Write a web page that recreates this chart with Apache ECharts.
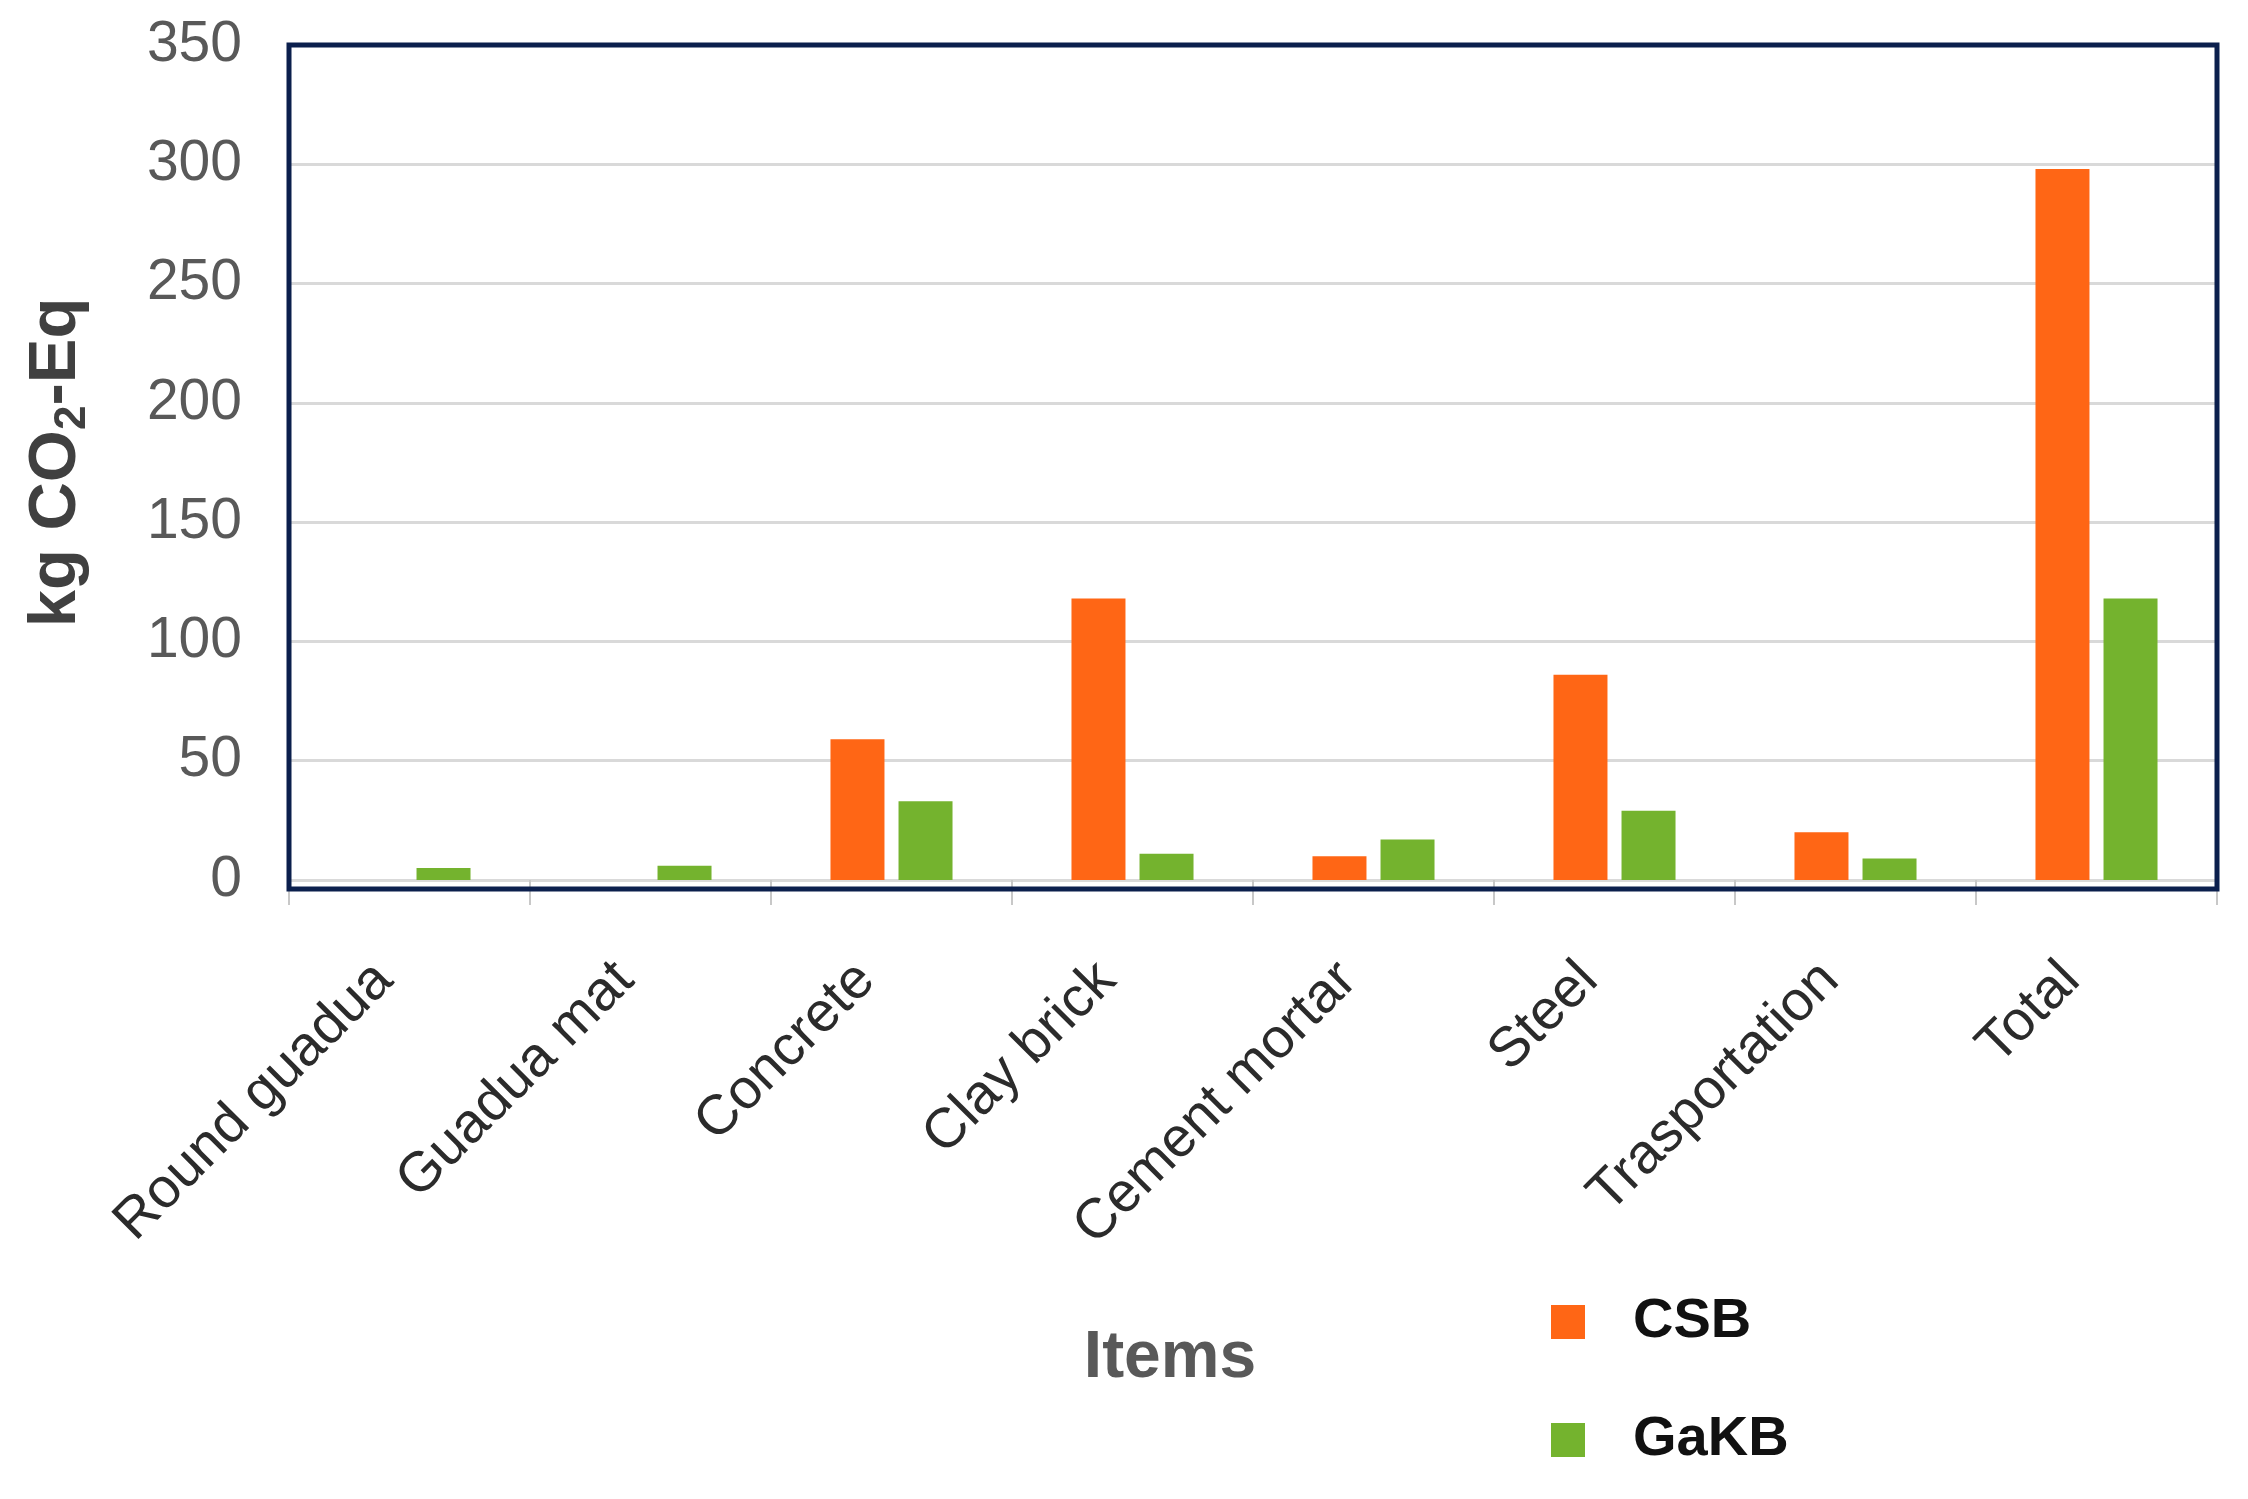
<!DOCTYPE html>
<html>
<head>
<meta charset="utf-8">
<script src="https://cdn.jsdelivr.net/npm/echarts@6/dist/echarts.min.js"></script>
<style>
    html, body { margin: 0; padding: 0; background: #fff; }
    #main { width: 2248px; height: 1499px; }
</style>
</head>
<body>
<div id="main"></div>
<script>
// categories and values
var items = ["Round guadua", "Guadua mat", "Concrete", "Clay brick", "Cement mortar", "Steel", "Trasportation", "Total"];
var csbValues = [0, 0, 59, 118, 10, 86, 20, 298];
var gakbValues = [5, 6, 33, 11, 17, 29, 9, 118];
var seriesNames = ["CSB", "GaKB"];
var yTicks = [0, 50, 100, 150, 200, 250, 300, 350];

var font = "Liberation Sans, Arial, sans-serif";
var myChart = echarts.init(document.getElementById("main"));

var option = {
    animation: false,
    color: ["#ff6615", "#74b32e"],
    grid: {
        left: 289,
        right: 31,
        top: 45,
        bottom: 619
    },
    //外框, 底边比0线略低
    graphic: [{
        type: "rect",
        z: 100,
        shape: { x: 289, y: 45, width: 1928, height: 844 },
        style: { fill: null, stroke: "#0b1f4d", lineWidth: 5 }
    }],
    legend: {
        orient: "vertical",
        left: 1546,
        top: 1287,
        itemWidth: 34,
        itemHeight: 34,
        itemGap: 58,
        icon: "rect",
        data: seriesNames,
        textStyle: {
            fontFamily: font,
            fontSize: 56,
            fontWeight: "bold",
            color: "#111",
            lineHeight: 60,
            padding: [0, 0, 0, 43]
        }
    },
    xAxis: {
        type: "category",
        data: items,
        name: "Items",
        nameLocation: "middle",
        nameGap: 446,
        nameTextStyle: {
            fontFamily: font,
            fontSize: 66,
            fontWeight: "bold",
            color: "#595959",
            padding: [0, 166, 0, 0]
        },
        axisLine: { show: false },
        axisTick: { show: true, length: 25, lineStyle: { color: "#c8c8c8", width: 2 } },
        axisLabel: {
            rotate: 45,
            margin: 66,
            interval: 0,
            padding: [0, 36, 0, 0],
            fontFamily: font,
            fontSize: 56,
            color: "#2b2b2b"
        }
    },
    yAxis: {
        type: "value",
        min: 0,
        max: 350,
        interval: 50,
        name: "{a|kg CO}{b|2}{a|-Eq}",
        nameLocation: "middle",
        nameGap: 194,
        nameTextStyle: {
            rich: {
                a: { fontFamily: font, fontSize: 67, fontWeight: "bold", color: "#404040", lineHeight: 76 },
                b: { fontFamily: font, fontSize: 44, fontWeight: "bold", color: "#404040", lineHeight: 44, verticalAlign: "bottom" }
            }
        },
        axisLine: { show: false },
        axisTick: { show: false },
        axisLabel: {
            margin: 47,
            fontFamily: font,
            fontSize: 57,
            color: "#595959",
            formatter: function (v) {
                return yTicks.indexOf(v) >= 0 ? String(v) : "";
            }
        },
        splitLine: { lineStyle: { color: "#d9d9d9", width: 3 } }
    },
    series: [{
        name: seriesNames[0],
        type: "bar",
        data: csbValues,
        barWidth: 54,
        barGap: "26%"
    }, {
        name: seriesNames[1],
        type: "bar",
        data: gakbValues,
        barWidth: 54,
        barGap: "26%"
    }]
};
myChart.setOption(option);
</script>
</body>
</html>
